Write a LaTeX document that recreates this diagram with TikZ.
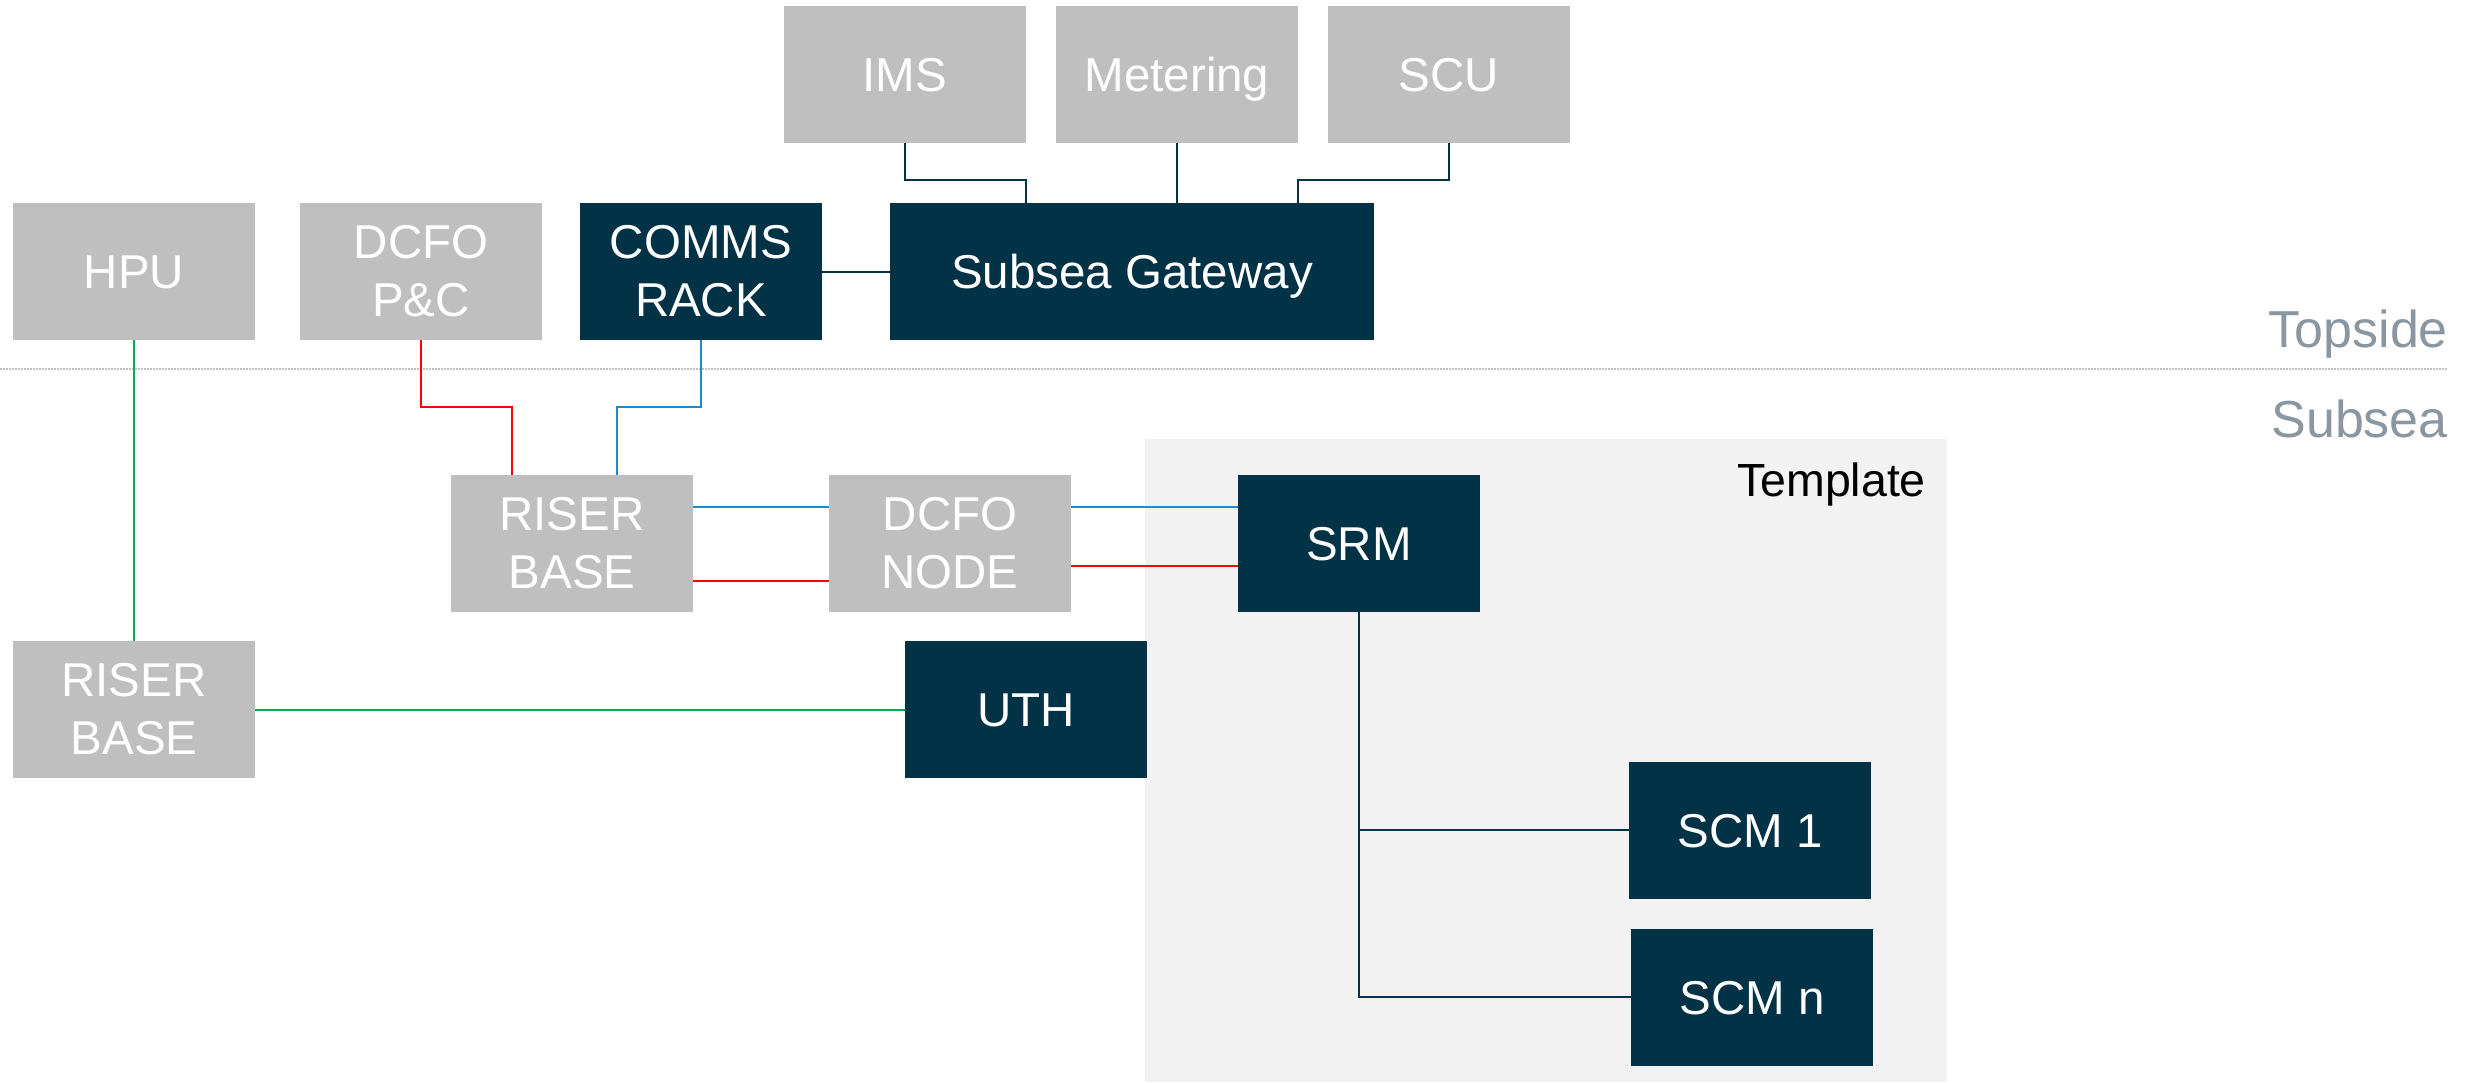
\documentclass[tikz,border=0pt]{standalone}
\usepackage{fontspec}
\setmainfont{Liberation Sans}
\definecolor{navy}{HTML}{023246}
\definecolor{boxgray}{HTML}{BFBFBF}
\definecolor{tmplbg}{HTML}{F2F2F2}
\definecolor{lblgray}{HTML}{8A96A0}
\definecolor{cred}{HTML}{FF0000}
\definecolor{cblue}{HTML}{1A8CC8}
\definecolor{cgreen}{HTML}{00B050}
\begin{document}
\begin{tikzpicture}[x=1pt,y=-1pt,
  base/.style={rectangle,inner sep=0pt,minimum height=137pt,text=white,align=center,
    font=\fontsize{47.5}{58}\selectfont},
  graybox/.style={base,fill=boxgray,minimum width=242pt},
  navybox/.style={base,fill=navy,minimum width=242pt},
  one/.style={text height=34pt,text depth=0pt},
  navyline/.style={draw=navy,line width=2pt},
  redline/.style={draw=cred,line width=2pt},
  blueline/.style={draw=cblue,line width=2pt},
  greenline/.style={draw=cgreen,line width=2pt},
  sidelabel/.style={text=lblgray,font=\fontsize{52}{60}\selectfont,inner sep=0pt}
]
\useasboundingbox (0,0) rectangle (2469,1082);
% template background
\fill[tmplbg] (1145,439) rectangle (1947,1082);
\node[anchor=base east,inner sep=0pt,font=\fontsize{46.5}{56}\selectfont] (tmpl) at (1926,496) {Template};
% separator
\draw[boxgray,line width=1.5pt,dash pattern=on 1.5pt off 1.5pt] (0,369) -- (2447,369);
\node[sidelabel,anchor=base east] (top) at (2448,347) {Topside};
\node[sidelabel,anchor=base east] (sub) at (2448,437) {Subsea};
% nodes
\node[graybox,one] (ims) at (905,74.5) {IMS};
\node[graybox,one] (met) at (1177,74.5) {Metering};
\node[graybox,one] (scu) at (1449,74.5) {SCU};
\node[graybox,one] (hpu) at (134,271.5) {HPU};
\node[graybox] (dpc) at (421,271.5) {DCFO\\P\&C};
\node[navybox] (comms) at (701,271.5) {COMMS\\RACK};
\node[navybox,one,minimum width=484pt] (gw) at (1132,271.5) {Subsea Gateway};
\node[graybox] (rb1) at (572,543.5) {RISER\\BASE};
\node[graybox] (dn) at (950,543.5) {DCFO\\NODE};
\node[navybox,one] (srm) at (1359,543.5) {SRM};
\node[graybox] (rb2) at (134,709.5) {RISER\\BASE};
\node[navybox,one] (uth) at (1026,709.5) {UTH};
\node[navybox,one] (scm1) at (1750,830) {SCM 1};
\node[navybox,one] (scmn) at (1752,997) {SCM n};
% topside connectors
\draw[navyline] (ims.south) |- (1026,180) -- (1026,180 |- gw.north);
\draw[navyline] (met.south) -- (met.south |- gw.north);
\draw[navyline] (scu.south) |- (1298,180) -- (1298,180 |- gw.north);
\draw[navyline] (comms.east) -- (gw.west);
% topside to subsea
\draw[greenline] (hpu.south) -- (rb2.north);
\draw[redline] (dpc.south) |- (512,407) -- (512,407 |- rb1.north);
\draw[blueline] (comms.south) |- (617,407) -- (617,407 |- rb1.north);
% subsea
\draw[blueline] (rb1.east |- 0,507) -- (dn.west |- 0,507);
\draw[redline] (rb1.east |- 0,581) -- (dn.west |- 0,581);
\draw[blueline] (dn.east |- 0,507) -- (srm.west |- 0,507);
\draw[redline] (dn.east |- 0,566) -- (srm.west |- 0,566);
\draw[greenline] (rb2.east) -- (uth.west);
\draw[navyline] (srm.south) |- (scmn.west);
\draw[navyline] (srm.south |- scm1.west) -- (scm1.west);
\end{tikzpicture}
\end{document}
